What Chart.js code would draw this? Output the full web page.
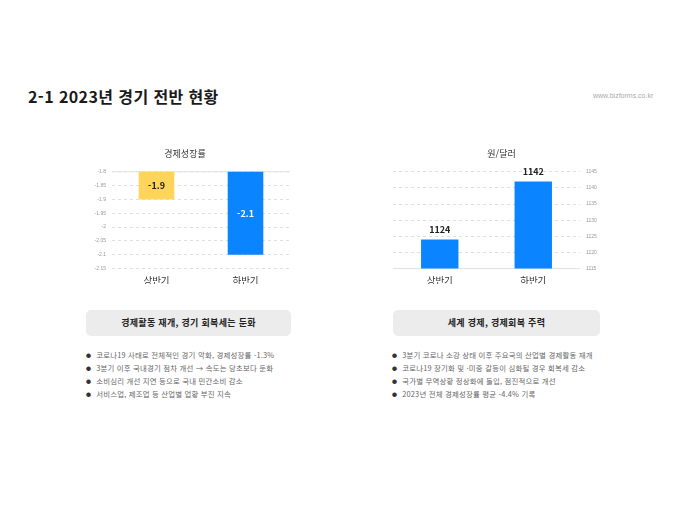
<!DOCTYPE html>
<html lang="ko">
<head>
    <meta charset="UTF-8">
    <title>2-1 2023년 경기 전반 현황</title>
    <script src="https://cdn.jsdelivr.net/npm/chart.js@4/dist/chart.umd.min.js"></script>
    <style>
        body { margin: 0; background: #fff; font-family: "Noto Sans CJK KR", "Noto Sans", sans-serif; }
        #page { position: relative; width: 680px; height: 510px; overflow: hidden; }
        h1 { position: absolute; left: 28px; top: 84px; margin: 0; font-size: 16px; font-weight: 700; color: #1a1a1a; letter-spacing: 0.4px; }
        .site { position: absolute; left: 593px; top: 92px; font-size: 7px; color: #aaa; font-family: "Liberation Sans", sans-serif; }
        .box { position: absolute; height: 26px; background: #ececec; border-radius: 5px; text-align: center; line-height: 26px; font-size: 9px; font-weight: 700; color: #222; letter-spacing: 0.3px; }
        ul { position: absolute; margin: 0; padding: 0; list-style: none; }
        li { font-size: 7.4px; color: #666; height: 13px; line-height: 13px; white-space: nowrap; letter-spacing: 0.2px; }
        li::before { content: "●"; color: #333; font-size: 5px; margin-right: 5px; vertical-align: 1px; }
        .chart { position: absolute; }
    </style>
</head>
<body>
<div id="page">
    <h1>2-1 2023년 경기 전반 현황</h1>
    <div class="site">www.bizforms.co.kr</div>

    <div class="chart" style="left:80px; top:140px; width:220px; height:144px;"><canvas id="growthChart"></canvas></div>
    <div class="chart" style="left:380px; top:140px; width:230px; height:144px;"><canvas id="rateChart"></canvas></div>

    <div class="box" style="left:86px; top:310px; width:205px;">경제활동 재개, 경기 회복세는 둔화</div>
    <div class="box" style="left:393px; top:310px; width:207px;">세계 경제, 경제회복 주력</div>

    <ul id="leftNotes" style="left:86px; top:348px;"></ul>
    <ul id="rightNotes" style="left:392px; top:348px;"></ul>
</div>

<script>
    // data
    let periods = ["상반기", "하반기"];
    let growthValues = [-1.9, -2.1];
    let rateValues = [1124, 1142];
    let growthTicks = [-1.8, -1.85, -1.9, -1.95, -2, -2.05, -2.1, -2.15];
    let rateTicks = [1145, 1140, 1135, 1130, 1125, 1120, 1115];

    let leftNotes = [
        "코로나19 사태로 전체적인 경기 악화, 경제성장률 -1.3%",
        "3분기 이후 국내경기 점차 개선 → 속도는 당초보다 둔화",
        "소비심리 개선 지연 등으로 국내 민간소비 감소",
        "서비스업, 제조업 등 산업별 업황 부진 지속",
    ];
    let rightNotes = [
        "3분기 코로나 소강 상태 이후 주요국의 산업별 경제활동 재개",
        "코로나19 장기화 및 ·미중 갈등이 심화될 경우 회복세 감소",
        "국가별 무역상황 정상화에 돌입, 점진적으로 개선",
        "2023년 전체 경제성장률 평균 -4.4% 기록",
    ];

    leftNotes.forEach(t => { let li = document.createElement("li"); li.textContent = t; document.getElementById("leftNotes").appendChild(li); });
    rightNotes.forEach(t => { let li = document.createElement("li"); li.textContent = t; document.getElementById("rightNotes").appendChild(li); });

    const fontKR = "'Noto Sans CJK KR', 'Noto Sans', sans-serif";

    // value on each bar: inside the bar (colors given) or just above it
    let makeBarLabels = function(insideColors) {
        return {
            id: 'barLabels',
            afterDraw(chart) {
                let ctx = chart.ctx;
                let yScale = chart.scales.y;
                let meta = chart.getDatasetMeta(0);
                let data = chart.data.datasets[0].data;
                let basePx = yScale.getBasePixel();
                ctx.save();
                ctx.font = "bold 9px " + fontKR;
                ctx.textAlign = "center";
                ctx.textBaseline = "middle";
                meta.data.forEach((bar, i) => {
                    let valPx = yScale.getPixelForValue(data[i]);
                    let y;
                    if (insideColors) {
                        y = (valPx + basePx) / 2;
                        ctx.fillStyle = insideColors[i];
                    } else {
                        y = valPx - 10;
                        ctx.fillStyle = "#222";
                    }
                    ctx.fillText(String(data[i]), bar.x, y);
                });
                ctx.restore();
            }
        };
    };

    // solid axis line at one value
    let makeAxisLine = function(value) {
        return {
            id: 'axisLine',
            beforeDatasetsDraw(chart) {
                let y = chart.scales.y.getPixelForValue(value);
                let ctx = chart.ctx;
                ctx.save();
                ctx.strokeStyle = "#e2e2e2";
                ctx.lineWidth = 1;
                ctx.beginPath();
                ctx.moveTo(chart.chartArea.left, y);
                ctx.lineTo(chart.chartArea.right, y);
                ctx.stroke();
                ctx.restore();
            }
        };
    };

    let baseOptions = (title, ticks, position, width) => ({
        responsive: true,
        maintainAspectRatio: false,
        animation: { duration: 0 },
        plugins: {
            legend: { display: false },
            tooltip: { enabled: false },
            title: {
                display: true,
                text: title,
                color: "#333",
                font: { family: fontKR, size: 9, weight: 'normal' },
                padding: { top: 8, bottom: 13 },
            },
        },
        layout: { padding: { left: 0, right: 0, top: 0, bottom: 0 } },
        scales: {
            x: {
                grid: { display: false },
                border: { display: false },
                ticks: { color: "#333", font: { family: fontKR, size: 9.5 }, padding: -2 },
            },
            y: {
                position: position,
                min: ticks[ticks.length - 1],
                max: ticks[0],
                afterBuildTicks: (scale) => { scale.ticks = ticks.map(v => ({ value: v })); },
                afterFit: (scale) => { scale.width = width; },
                border: { display: false, dash: [3, 3] },
                grid: { color: "#e0e0e0", drawTicks: false },
                ticks: {
                    color: "#999",
                    font: { family: "'Liberation Sans', sans-serif", size: 5 },
                    padding: 6,
                    callback: (v) => String(Math.round(v * 100) / 100),
                },
            },
        },
    });

    {
        let opts = baseOptions("경제성장률", growthTicks, 'left', 32);
        opts.layout.padding.right = 10;
        new Chart(document.getElementById('growthChart'), {
            type: 'bar',
            data: {
                labels: periods,
                datasets: [{
                    data: growthValues,
                    backgroundColor: ["#FFD45A", "#0A84FF"],
                    categoryPercentage: 1,
                    barPercentage: 0.4,
                }],
            },
            options: opts,
            plugins: [makeBarLabels(["#222", "#fff"]), makeAxisLine(growthTicks[0])],
        });
    }

    {
        let opts = baseOptions("원/달러", rateTicks, 'right', 30);
        opts.layout.padding.left = 13;
        new Chart(document.getElementById('rateChart'), {
            type: 'bar',
            data: {
                labels: periods,
                datasets: [{
                    data: rateValues,
                    backgroundColor: "#0A84FF",
                    categoryPercentage: 1,
                    barPercentage: 0.4,
                }],
            },
            options: opts,
            plugins: [makeBarLabels(null), makeAxisLine(rateTicks[rateTicks.length - 1])],
        });
    }
</script>
</body>
</html>
